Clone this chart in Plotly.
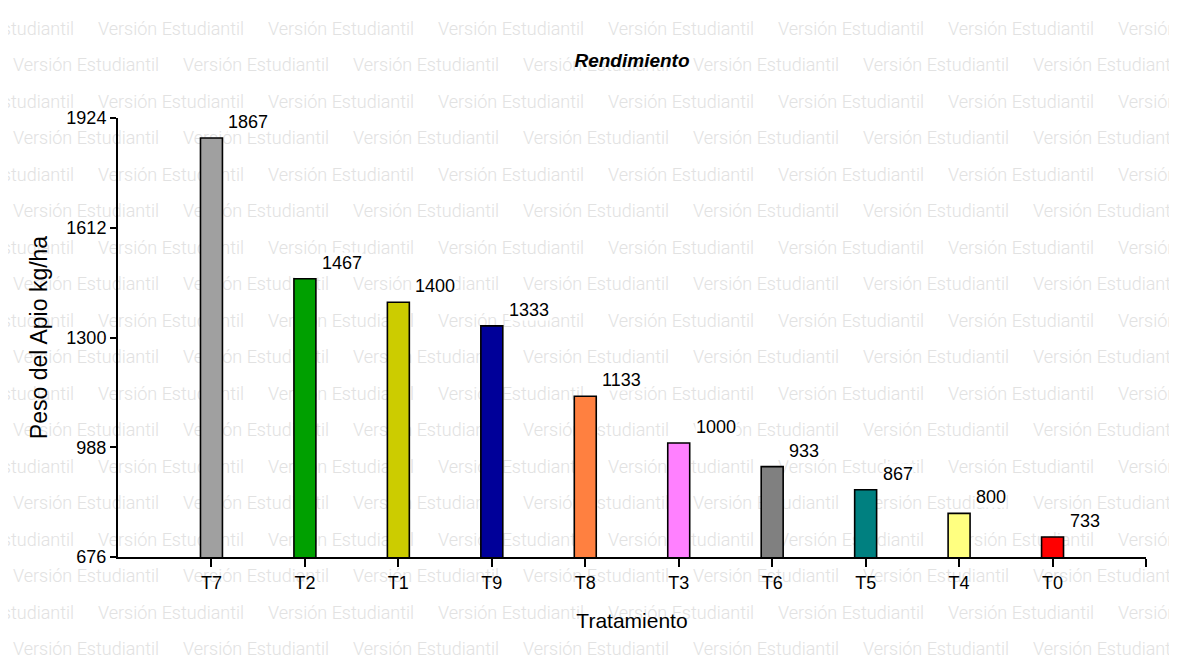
import plotly.graph_objects as go

# ---- data ----
tratamientos = ["T7", "T2", "T1", "T9", "T8", "T3", "T6", "T5", "T4", "T0"]
rendimiento = [1867, 1467, 1400, 1333, 1133, 1000, 933, 867, 800, 733]
colores = ["#a0a0a0", "#00a000", "#cccc00", "#000099", "#ff8040",
           "#ff80ff", "#808080", "#008080", "#ffff80", "#ff0000"]
y_ticks = [676, 988, 1300, 1612, 1924]
watermark_text = "Versión Estudiantil"

OFF = 8  # page body margin
W, H = 1177 - OFF, 660 - OFF
L, T = 118 - OFF, 118 - OFF
R, B = W - (1146 - OFF), H - (557 - OFF)
pw, ph = W - L - R, H - T - B

xs = list(range(len(tratamientos)))

fig = go.Figure()
fig.add_trace(go.Bar(
    x=xs, y=rendimiento,
    marker=dict(color=colores, line=dict(color="black", width=1.6)),
    width=0.235, showlegend=False, hoverinfo="skip",
))

# value labels
for xi, v in zip(xs, rendimiento):
    fig.add_annotation(x=xi + 0.118, y=v, text=str(v), showarrow=False,
                       xanchor="left", yanchor="middle", xshift=5, yshift=16,
                       bgcolor="white", borderpad=0,
                       font=dict(family="Liberation Sans, Arial", size=18, color="black"))

# watermark (background text), positions in page pixels
shapes = []
row_h = 36.5
for r in range(18):
    cy = 27 + r * row_h - OFF
    start = (-75 if r % 2 == 0 else 10) - OFF
    for c in range(8):
        sx = start + c * 170
        if sx > W:
            break
        x0 = (sx - L) / pw
        x1 = (sx + 150 - L) / pw
        y0 = (H - B - (cy + 10)) / ph
        y1 = (H - B - (cy - 10)) / ph
        shapes.append(dict(type="rect", xref="paper", yref="paper", layer="below",
                           x0=x0, x1=x1, y0=y0, y1=y1,
                           line=dict(width=0), fillcolor="rgba(0,0,0,0)",
                           label=dict(text=watermark_text, textposition="middle left",
                                      padding=0,
                                      font=dict(family="Roboto", size=18, weight=300,
                                                color="#e2e2e2"))))
fig.update_layout(shapes=shapes)

fig.update_layout(
    width=W, height=H,
    margin=dict(l=L, r=R, t=T, b=B),
    paper_bgcolor="white", plot_bgcolor="rgba(0,0,0,0)",
    title=dict(text="<b><i>Rendimiento</i></b>", x=0.5, xref="paper", xanchor="center",
               y=1 - (60 - OFF) / H, yref="container", yanchor="middle",
               font=dict(family="Liberation Sans, Arial", size=19, color="black")),
    font=dict(family="Liberation Sans, Arial", size=18, color="black"),
)
fig.update_xaxes(
    range=[-1, 10], tickmode="array", tickvals=list(range(len(tratamientos) + 1)),
    ticktext=tratamientos + [""],
    showline=True, linecolor="black", linewidth=2, ticks="outside", ticklen=8,
    tickwidth=2, tickcolor="black", showgrid=False, zeroline=False,
    title=dict(text="Tratamiento", font=dict(size=21), standoff=22),
    tickfont=dict(size=18),
)
fig.update_yaxes(
    range=[y_ticks[0], y_ticks[-1]], tickmode="array", tickvals=y_ticks,
    showline=True, linecolor="black", linewidth=2, ticks="outside", ticklen=6,
    tickwidth=2, tickcolor="black", showgrid=False, zeroline=False,
    title=dict(text="Peso del Apio kg/ha", font=dict(size=23), standoff=12),
    tickfont=dict(size=18),
)

fig.write_html("out.html")
